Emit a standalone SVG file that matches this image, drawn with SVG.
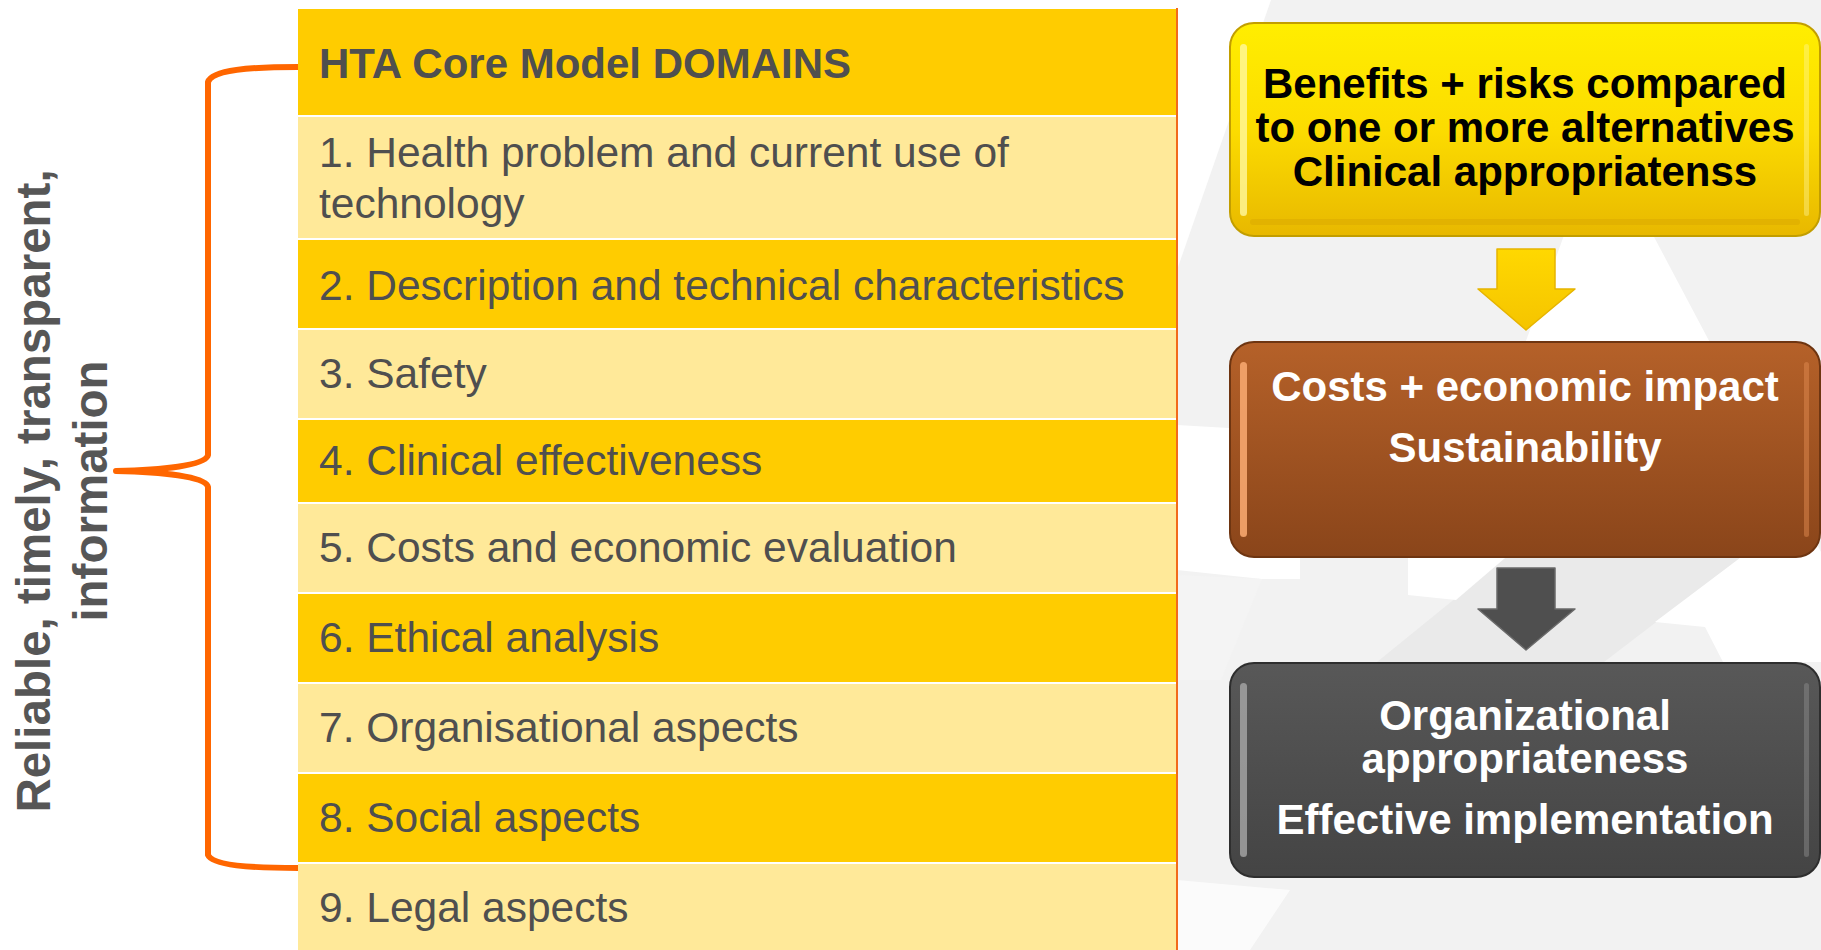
<svg xmlns="http://www.w3.org/2000/svg" width="1821" height="950" viewBox="0 0 1821 950">
<defs>
<style>
.row-d{fill:#FFCC00}
.row-l{fill:#FFE999}
.rt{font-family:"Liberation Sans",Arial,sans-serif;font-size:42.5px;fill:#4F4F4F}
.ht{font-family:"Liberation Sans",Arial,sans-serif;font-size:42px;font-weight:bold;fill:#4F4F4F}
.vt{font-family:"Liberation Sans",Arial,sans-serif;font-size:47.5px;font-weight:bold;fill:#565656}
.bt{font-family:"Liberation Sans",Arial,sans-serif;font-size:42px;font-weight:bold;text-anchor:middle}
.wh{fill:#ffffff}
</style>
<linearGradient id="gY" x1="0" y1="0" x2="0" y2="1">
<stop offset="0" stop-color="#FFEE00"/>
<stop offset="0.5" stop-color="#FCDC00"/>
<stop offset="1" stop-color="#E8B800"/>
</linearGradient>
<linearGradient id="gB" x1="0" y1="0" x2="0" y2="1">
<stop offset="0" stop-color="#B56129"/>
<stop offset="1" stop-color="#8A451A"/>
</linearGradient>
<linearGradient id="gD" x1="0" y1="0" x2="0" y2="1">
<stop offset="0" stop-color="#585858"/>
<stop offset="1" stop-color="#444444"/>
</linearGradient>
<linearGradient id="gA" x1="0" y1="0" x2="0" y2="1">
<stop offset="0" stop-color="#FFD800"/>
<stop offset="1" stop-color="#F5C400"/>
</linearGradient>
</defs>

<rect x="0" y="0" width="1821" height="950" fill="#ffffff"/>

<g id="background">
<rect x="1177" y="0" width="644" height="950" fill="#F2F2F2"/>
<polygon class="wh" points="1177,0 1271,0 1177,270"/>
<polygon class="wh" points="1600,135 1448,558 1821,558 1821,552"/>
<polygon class="wh" points="1177,425 1300,432 1300,579 1262,579 1177,570"/>
<polygon points="1505,558 1740,558 1604,662 1377,662" fill="#EAEAEA"/>
<polygon class="wh" points="1408,558 1505,558 1456,600 1408,595"/>
<polygon class="wh" points="1740,558 1821,558 1821,662 1723,662 1705,627 1655,622"/>
<polygon points="1177,575 1262,579 1221,680 1177,680" fill="#F4F4F4"/>
<polygon class="wh" points="1177,880 1177,950 1250,950 1290,890" opacity="0.7"/>
</g>

<g id="table">
<rect class="row-d" x="298" y="9" width="878" height="106"/>
<rect class="row-l" x="298" y="117" width="878" height="121"/>
<rect class="row-d" x="298" y="240" width="878" height="88"/>
<rect class="row-l" x="298" y="330" width="878" height="88"/>
<rect class="row-d" x="298" y="420" width="878" height="82"/>
<rect class="row-l" x="298" y="504" width="878" height="88"/>
<rect class="row-d" x="298" y="594" width="878" height="88"/>
<rect class="row-l" x="298" y="684" width="878" height="88"/>
<rect class="row-d" x="298" y="774" width="878" height="88"/>
<rect class="row-l" x="298" y="864" width="878" height="86"/>
<line x1="1177" y1="8" x2="1177" y2="950" stroke="#F26A1B" stroke-width="2"/>
</g>

<g id="table-text">
<text class="ht" x="319" y="78">HTA Core Model DOMAINS</text>
<text class="rt" x="319" y="167">1. Health problem and current use of</text>
<text class="rt" x="319" y="218">technology</text>
<text class="rt" x="319" y="300">2. Description and technical characteristics</text>
<text class="rt" x="319" y="388">3. Safety</text>
<text class="rt" x="319" y="475">4. Clinical effectiveness</text>
<text class="rt" x="319" y="562">5. Costs and economic evaluation</text>
<text class="rt" x="319" y="652">6. Ethical analysis</text>
<text class="rt" x="319" y="742">7. Organisational aspects</text>
<text class="rt" x="319" y="832">8. Social aspects</text>
<text class="rt" x="319" y="922">9. Legal aspects</text>
</g>

<g id="brace">
<path d="M298,67 C250,67 212,70 208,82 L208,455 C206,466 160,470 116,471 C160,472 206,476 208,487 L208,855 C212,865 250,868 298,868" fill="none" stroke="#FF6600" stroke-width="6" stroke-linejoin="round"/>
</g>

<g id="side-label">
<text class="vt" text-anchor="middle" transform="translate(50,491) rotate(-90)">Reliable, timely, transparent,</text>
<text class="vt" text-anchor="middle" transform="translate(107,491) rotate(-90)">information</text>
</g>

<g id="box-benefits">
<rect x="1230" y="23" width="590" height="213" rx="24" fill="url(#gY)" stroke="#C29E00" stroke-width="2"/>
<rect x="1240" y="44" width="7" height="172" rx="3.5" fill="#FFF7A0" opacity="0.8"/>
<rect x="1804" y="44" width="5" height="172" rx="2.5" fill="#FFF7A0" opacity="0.4"/>
<rect x="1250" y="219" width="550" height="6" rx="3" fill="#D9A800" opacity="0.5"/>
<text class="bt" x="1525" y="98" fill="#000000">Benefits + risks compared</text>
<text class="bt" x="1525" y="142" fill="#000000">to one or more alternatives</text>
<text class="bt" x="1525" y="186" fill="#000000">Clinical appropriatenss</text>
</g>

<g id="box-costs">
<rect x="1230" y="342" width="590" height="215" rx="24" fill="url(#gB)" stroke="#6E3511" stroke-width="2"/>
<rect x="1240" y="362" width="7" height="175" rx="3.5" fill="#F6A66E" opacity="0.9"/>
<rect x="1804" y="362" width="5" height="175" rx="2.5" fill="#E08A50" opacity="0.5"/>
<text class="bt" x="1525" y="401" fill="#ffffff">Costs + economic impact</text>
<text class="bt" x="1525" y="462" fill="#ffffff">Sustainability</text>
</g>

<g id="box-organizational">
<rect x="1230" y="663" width="590" height="214" rx="24" fill="url(#gD)" stroke="#2E2E2E" stroke-width="2"/>
<rect x="1240" y="683" width="7" height="174" rx="3.5" fill="#A8A8A8" opacity="0.8"/>
<rect x="1804" y="683" width="5" height="174" rx="2.5" fill="#8A8A8A" opacity="0.5"/>
<text class="bt" x="1525" y="730" fill="#ffffff">Organizational</text>
<text class="bt" x="1525" y="773" fill="#ffffff">appropriateness</text>
<text class="bt" x="1525" y="834" fill="#ffffff">Effective implementation</text>
</g>

<g id="connectors">
<polygon points="1497,249 1555,249 1555,289 1575,289 1526,330 1478,289 1497,289" fill="url(#gA)" stroke="#E6B400" stroke-width="1.5" stroke-linejoin="round"/>
<polygon points="1497,568 1555,568 1555,609 1575,609 1526,650 1478,609 1497,609" fill="#4F4F4F" stroke="#6A6A6A" stroke-width="1.5" stroke-linejoin="round"/>
</g>
</svg>
